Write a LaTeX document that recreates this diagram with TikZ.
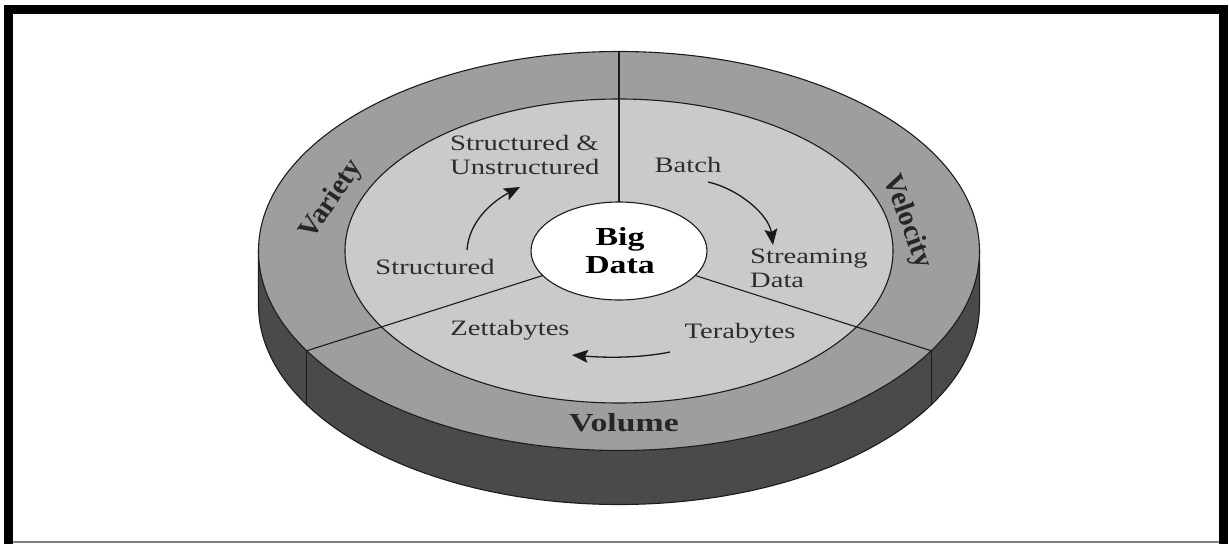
\documentclass[tikz,border=0pt]{standalone}
\usepackage{fontspec}
\setmainfont{Liberation Serif}
\usepackage{graphicx}
\usetikzlibrary{arrows.meta}

\definecolor{ringgray}{RGB}{158,158,158}
\definecolor{innergray}{RGB}{202,202,202}
\definecolor{sidegray}{RGB}{74,74,74}
\definecolor{edgegray}{RGB}{28,28,28}
\definecolor{textgray}{RGB}{45,45,45}

% horizontal labels are set wide
\newcommand{\widetxt}[1]{\scalebox{1.3}[1]{#1}}

\begin{document}
\begin{tikzpicture}[x=1pt,y=1pt,
  outline/.style={draw=edgegray, line width=1.1pt},
  lbl/.style={font=\fontsize{22}{24}\selectfont, text=textgray, inner sep=0pt},
  hub/.style={font=\fontsize{26}{27}\selectfont\bfseries, align=center, inner sep=0pt},
  ringlbl/.style={font=\fontsize{26}{28}\selectfont\bfseries, text=black!85, inner sep=0pt},
  sidelbl/.style={font=\fontsize{28.5}{30}\selectfont\bfseries, text=black!85, inner sep=0pt},
  flow/.style={line width=1.3pt, draw=black!90, -{Stealth[length=16pt,width=13pt,inset=3pt]}}
]
\useasboundingbox (-619,-293) rectangle (610,251);

% frame
\fill[black] (-615,246) rectangle (609,237);
\fill[black] (-615,246) rectangle (-606,-293);
\fill[black] (600,246) rectangle (609,-293);
\draw[gray, line width=1.5pt] (-606,-291) -- (600,-291);

% side of the disc
\fill[sidegray] (-360.5,0) -- (-360.5,-54)
  arc[start angle=180, end angle=360, x radius=360.5, y radius=199.5]
  -- (360.5,0)
  arc[start angle=0, end angle=-180, x radius=360.5, y radius=199.5] -- cycle;
\draw[outline] (-360.5,0) -- (-360.5,-54)
  arc[start angle=180, end angle=360, x radius=360.5, y radius=199.5]
  -- (360.5,0);
\draw[outline] (210:360.5 and 199.5) -- ++(0,-54);
\draw[outline] (330:360.5 and 199.5) -- ++(0,-54);

% top face: outer ring, inner ring, sector dividers, hub
\filldraw[fill=ringgray, outline] (0,0) ellipse [x radius=360.5, y radius=199.5];
\filldraw[fill=innergray, outline] (0,0) ellipse [x radius=274, y radius=152];
\foreach \a in {90,210,330}
  \draw[outline] (\a:88 and 49) -- (\a:360.5 and 199.5);
\filldraw[fill=white, outline] (0,0) ellipse [x radius=88, y radius=49];

% hub text
\node[hub] (bigdata) at (1,0) {\widetxt{Big}\\[1pt]\widetxt{Data}};

% ring labels
\node[sidelbl, rotate=56] (variety) at (-287,51) {Variety};
\node[sidelbl, rotate=-70] (velocity) at (288,29) {Velocity};
\node[ringlbl] (volume) at (5,-172) {\widetxt{Volume}};

% inner labels
\node[lbl, anchor=west, align=left] (structun) at (-169,96) {\widetxt{Structured \&}\\\widetxt{Unstructured}};
\node[lbl] (structured) at (-184,-16) {\widetxt{Structured}};
\node[lbl] (batch) at (69,86) {\widetxt{Batch}};
\node[lbl, anchor=west, align=left] (streaming) at (131,-17) {\widetxt{Streaming}\\\widetxt{Data}};
\node[lbl] (zetta) at (-109,-79) {\widetxt{Zettabytes}};
\node[lbl] (tera) at (121,-82) {\widetxt{Terabytes}};

% arrow ends
\coordinate (s1) at (-152,1);
\coordinate (s2) at (-99,64);
\coordinate (b1) at (89,69);
\coordinate (b2) at (154,6);
\coordinate (t1) at (51,-101);
\coordinate (t2) at (-47,-104);

\draw[flow] (s1) .. controls (-150,30) and (-126,50) .. (s2);
\draw[flow] (b1) .. controls (120,62) and (150,36) .. (b2);
\draw[flow] (t1) .. controls (22,-107) and (-12,-107) .. (t2);
\end{tikzpicture}
\end{document}
